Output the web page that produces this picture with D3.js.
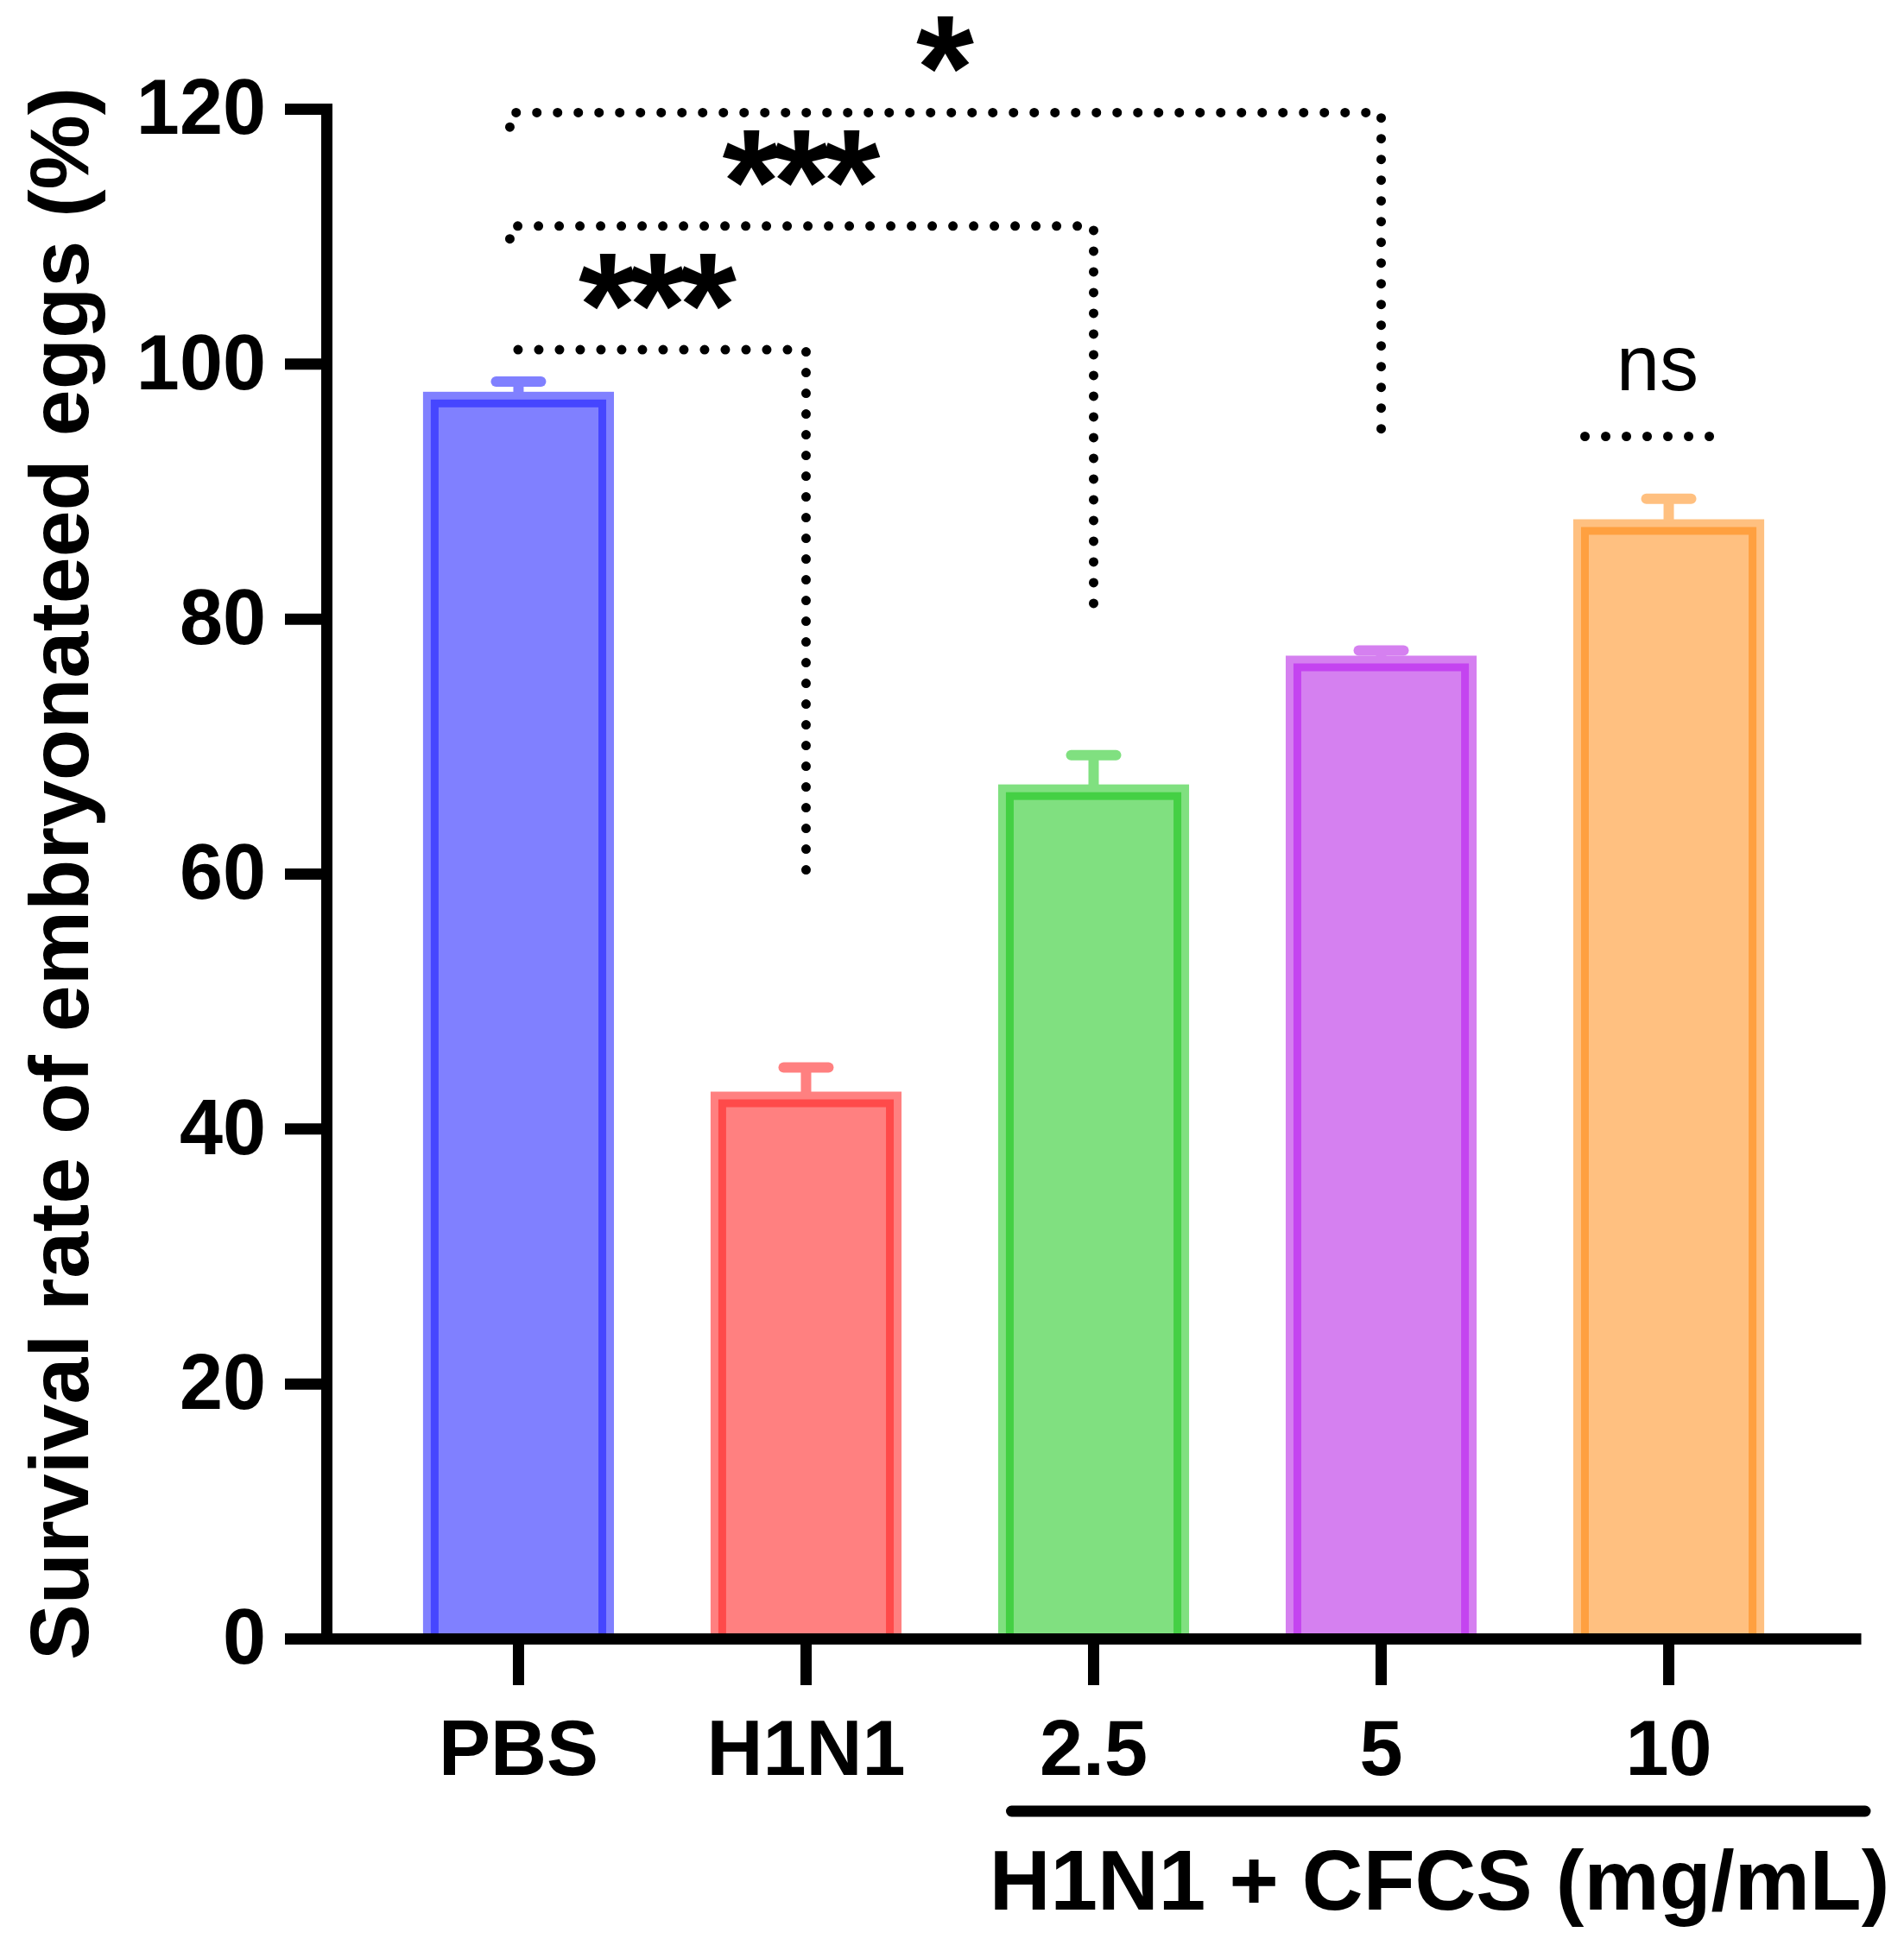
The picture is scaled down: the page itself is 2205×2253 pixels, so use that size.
<!DOCTYPE html>
<html>
<head>
<meta charset="utf-8">
<script src="https://cdn.jsdelivr.net/npm/d3@7"></script>
<style>
  body { margin: 0; background: #fff; }
  text { font-family: "Liberation Sans", Arial, sans-serif; fill: #000; }
  .axis text { font-weight: bold; font-size: 90px; }
  .axis path, .axis line { stroke: #000; stroke-width: 13px; }
</style>
</head>
<body>
<svg width="2205" height="2253"></svg>
<script>
// groups and survival values
var groups = ["PBS", "H1N1", "2.5", "5", "10"];
var means = [97.8, 42.9, 67.0, 77.1, 87.8];
var errors = [0.8, 1.9, 2.3, 0.4, 1.6];
var fills = ["#8080ff", "#ff8080", "#80e080", "#d580f0", "#ffc080"];
var strokes = ["#4646ff", "#ff4a4a", "#44d044", "#c444f0", "#ffa040"];
var yTicks = [0, 20, 40, 60, 80, 100, 120];

// significance brackets: from PBS to a group, level and drop in y units
var sigTo = ["5", "2.5", "H1N1"];
var sigLevel = [119.7, 110.8, 101.1];
var sigEnd = [94.9, 81.2, 60.3];
var sigLeftEnd = [118.3, 109.2, 101.1];
var sigLabel = ["*", "***", "***"];

var svg = d3.select("svg");

var x = d3.scaleBand()
    .domain(groups)
    .range([378, 2155])
    .padding(0.336);

var y = d3.scaleLinear()
    .domain([0, 120])
    .range([1898, 126]);

var bw = x.bandwidth();

// bars: light body, darker inner outline
var bar = svg.append("g").selectAll("g")
    .data(groups)
    .enter().append("g");

bar.append("rect")
    .attr("x", function (d) { return x(d); })
    .attr("y", function (d, i) { return y(means[i]); })
    .attr("width", bw)
    .attr("height", function (d, i) { return y(0) - y(means[i]); })
    .style("fill", function (d, i) { return fills[i]; });

bar.append("rect")
    .attr("x", function (d) { return x(d) + 13.5; })
    .attr("y", function (d, i) { return y(means[i]) + 13.5; })
    .attr("width", bw - 27)
    .attr("height", function (d, i) { return y(0) - y(means[i]) - 13.5; })
    .style("fill", "none")
    .style("stroke", function (d, i) { return strokes[i]; })
    .style("stroke-width", 9);

// error bars (upper only)
bar.append("line")
    .attr("x1", function (d) { return x(d) + bw / 2; })
    .attr("x2", function (d) { return x(d) + bw / 2; })
    .attr("y1", function (d, i) { return y(means[i]) + 4; })
    .attr("y2", function (d, i) { return y(means[i] + errors[i]); })
    .style("stroke", function (d, i) { return fills[i]; })
    .style("stroke-width", 12);

bar.append("line")
    .attr("x1", function (d) { return x(d) + bw / 2 - 26; })
    .attr("x2", function (d) { return x(d) + bw / 2 + 26; })
    .attr("y1", function (d, i) { return y(means[i] + errors[i]); })
    .attr("y2", function (d, i) { return y(means[i] + errors[i]); })
    .style("stroke", function (d, i) { return fills[i]; })
    .style("stroke-width", 12)
    .style("stroke-linecap", "round");

// axes
var yAxis = svg.append("g")
    .attr("class", "axis")
    .attr("transform", "translate(378,0)")
    .call(d3.axisLeft(y).tickValues(yTicks).tickSize(48).tickSizeOuter(0).tickPadding(22));
yAxis.select(".domain").style("stroke-linecap", "square");

var xAxis = svg.append("g")
    .attr("class", "axis")
    .attr("transform", "translate(0," + y(0) + ")")
    .call(d3.axisBottom(x).tickSize(54).tickSizeOuter(0).tickPadding(40));
xAxis.selectAll(".tick line").attr("y1", 6);

// dotted comparison brackets
var dotted = function (sel) {
    return sel.style("fill", "none")
        .style("stroke", "#000")
        .style("stroke-width", 11)
        .style("stroke-linecap", "round")
        .style("stroke-dasharray", "0,24");
};

var cx = function (g) { return x(g) + bw / 2; };

sigTo.forEach(function (g, i) {
    var x0 = cx("PBS") - 10, x1 = cx(g);
    svg.append("path")
        .attr("d", "M" + x1 + "," + y(sigEnd[i]) + "V" + y(sigLevel[i]) + "H" + x0 + "V" + y(sigLeftEnd[i]))
        .call(dotted);
    svg.append("text")
        .attr("x", (x0 + x1) / 2 - 5)
        .attr("y", y(sigLevel[i]) + 8)
        .attr("text-anchor", "middle")
        .style("font-weight", "bold")
        .style("font-size", "172px")
        .style("letter-spacing", "-9px")
        .text(sigLabel[i]);
});

// ns over the highest dose
svg.append("path")
    .attr("d", "M" + (cx("10") - 97) + "," + y(94.3) + "H" + (cx("10") + 50))
    .call(dotted);
svg.append("text")
    .attr("x", cx("10") - 13)
    .attr("y", y(94.3) - 54)
    .attr("text-anchor", "middle")
    .style("font-size", "90px")
    .text("ns");

// group label under the dose ticks
svg.append("line")
    .attr("x1", cx("2.5") - 95)
    .attr("x2", 2160)
    .attr("y1", 2098)
    .attr("y2", 2098)
    .style("stroke", "#000")
    .style("stroke-width", 13)
    .style("stroke-linecap", "round");

svg.append("text")
    .attr("x", 1667)
    .attr("y", 2212)
    .attr("text-anchor", "middle")
    .style("font-weight", "bold")
    .style("font-size", "98px")
    .text("H1N1 + CFCS (mg/mL)");

// y title
svg.append("text")
    .attr("transform", "translate(102," + 1012 + ") rotate(-90)")
    .attr("text-anchor", "middle")
    .style("font-weight", "bold")
    .style("font-size", "97px")
    .text("Survival rate of embryonateed eggs (%)");
</script>
</body>
</html>
